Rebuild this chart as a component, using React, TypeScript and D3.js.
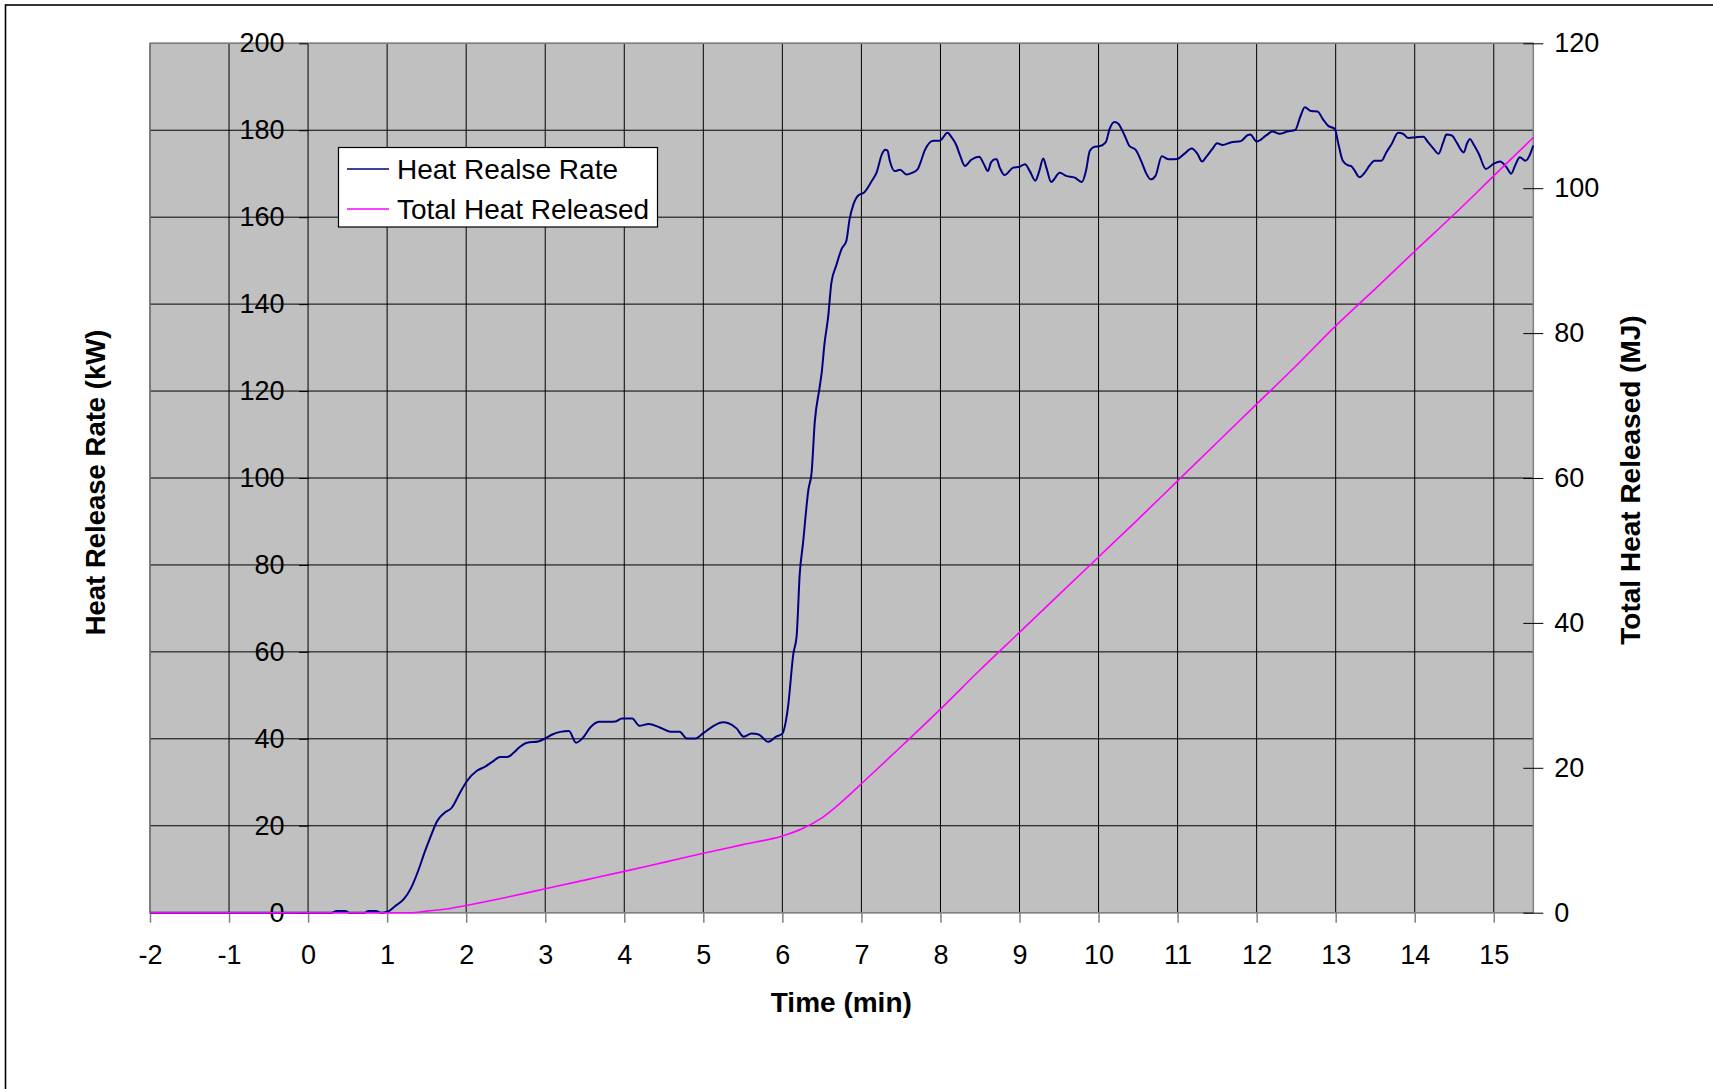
import * as d3 from 'd3';
import { useEffect, useRef } from 'react';

// Heat release rate (kW) vs time (min)
const hrrTime = [
    -2, 0.3, 0.36, 0.47, 0.52, 0.72, 0.76, 0.86, 0.92, 1.0, 1.1, 1.21, 1.3, 1.4, 1.47, 1.55, 1.63, 1.72, 1.82, 1.91,
    2.01, 2.14, 2.24, 2.33, 2.43, 2.52, 2.6, 2.67, 2.77, 2.91, 3.0, 3.09, 3.19, 3.3, 3.39, 3.48, 3.57, 3.68, 3.89, 3.97,
    4.1, 4.19, 4.31, 4.45, 4.6, 4.7, 4.79, 4.9, 5.0, 5.13, 5.25, 5.32, 5.42, 5.51, 5.61, 5.7, 5.82, 5.92, 6.0, 6.07,
    6.14, 6.18, 6.22, 6.26, 6.33, 6.37, 6.41, 6.47, 6.5, 6.53, 6.58, 6.62, 6.68, 6.75, 6.81, 6.85, 6.9, 6.96, 7.03, 7.13,
    7.19, 7.26, 7.3, 7.33, 7.36, 7.42, 7.49, 7.57, 7.64, 7.71, 7.74, 7.8, 7.91, 7.99, 8.09, 8.14, 8.2, 8.25, 8.31, 8.39,
    8.49, 8.55, 8.6, 8.64, 8.69, 8.71, 8.75, 8.81, 8.92, 9.0, 9.07, 9.13, 9.2, 9.25, 9.3, 9.34, 9.4, 9.51, 9.59, 9.7,
    9.79, 9.84, 9.89, 9.95, 10.01, 10.09, 10.14, 10.2, 10.25, 10.33, 10.39, 10.47, 10.54, 10.6, 10.66, 10.72, 10.8, 10.89, 11.0, 11.08,
    11.18, 11.25, 11.31, 11.36, 11.44, 11.5, 11.57, 11.67, 11.8, 11.89, 11.92, 12.0, 12.12, 12.2, 12.29, 12.39, 12.49, 12.55, 12.61, 12.69,
    12.77, 12.84, 12.9, 12.99, 13.03, 13.09, 13.16, 13.2, 13.24, 13.3, 13.37, 13.43, 13.49, 13.58, 13.64, 13.71, 13.79, 13.85, 13.92, 14.02,
    14.11, 14.17, 14.24, 14.3, 14.36, 14.4, 14.47, 14.53, 14.62, 14.66, 14.7, 14.74, 14.81, 14.9, 15.0, 15.08, 15.16, 15.22, 15.27, 15.33,
    15.4, 15.5,
];
const hrrValues = [
    0, 0, 0.4, 0.4, 0, 0, 0.4, 0.4, 0, 0.2, 1.5, 3.1, 5.6, 10, 13.7, 17.5, 21, 22.9, 24.2, 27.2,
    30.3, 32.7, 33.6, 34.7, 35.8, 35.8, 36.8, 38, 39.1, 39.4, 40.1, 41, 41.6, 41.8, 39.1, 40.3, 42.6, 43.9, 44, 44.7,
    44.7, 43, 43.4, 42.6, 41.6, 41.6, 40.1, 40.1, 41.3, 43, 43.8, 43.6, 42.4, 40.5, 41.2, 41, 39.3, 40.5, 41.2, 47.1,
    59.7, 63.5, 78, 84.8, 97.4, 101.3, 112.9, 120.7, 124.6, 130.4, 137.2, 144.9, 148.8, 152.7, 154.6, 159.5, 163, 165, 165.6, 168.3,
    170.2, 174.5, 175.5, 175.3, 172.9, 170.6, 170.9, 169.8, 170.2, 171, 172.2, 175.3, 177.6, 177.6, 179.4, 178.4, 176.6, 174.1, 171.8, 173.2,
    173.9, 172.2, 170.6, 172.6, 173.3, 173.3, 171.4, 169.7, 171.4, 171.6, 172.2, 170.6, 168.4, 170.6, 173.5, 171.4, 168.1, 170.2, 169.5, 169.1,
    168.1, 170.6, 175.3, 176.2, 176.3, 177.2, 180.3, 181.9, 181.5, 178.8, 176.4, 175.5, 172.9, 170.2, 168.7, 169.5, 174, 173.3, 173.4, 174.5,
    175.8, 174.6, 172.8, 173.8, 175.7, 177, 176.6, 177.2, 177.5, 178.9, 179, 177.4, 178.8, 179.7, 179.2, 179.7, 180.1, 183, 185.3, 184.4,
    184.3, 182.5, 181.1, 180.3, 177.2, 173, 171.9, 171.7, 170.7, 169.2, 170.3, 171.9, 173, 173, 174.9, 176.9, 179.4, 179.2, 178.2, 178.4,
    178.5, 177.2, 175.7, 174.6, 177.2, 179, 178.8, 177.2, 174.9, 176.9, 178, 176.9, 174.6, 171.1, 172.3, 172.8, 171.5, 170, 171.9, 173.8,
    173, 176.5,
];

// Total heat released (MJ) vs time (min)
const thrTime = [
    -2, 1.3, 1.5, 1.75, 2.0, 2.5, 3.0, 3.5, 4.0, 4.5, 5.0, 5.5, 6.0, 6.25, 6.5, 6.75, 7.0, 7.5, 8.0, 8.5,
    9.0, 9.5, 10.0, 10.5, 11.0, 11.5, 12.0, 12.5, 13.0, 13.5, 14.0, 14.5, 15.0, 15.5,
];
const thrValues = [
    0, 0, 0.22, 0.5, 1.0, 2.1, 3.3, 4.5, 5.7, 6.95, 8.2, 9.4, 10.6, 11.6, 13.1, 15.3, 17.8, 22.9, 28.1, 33.5,
    38.7, 43.9, 49.1, 54.3, 59.6, 64.9, 70.2, 75.5, 81.0, 86.1, 91.3, 96.4, 101.7, 107.0,
];

const xTicks = [-2, -1, 0, 1, 2, 3, 4, 5, 6, 7, 8, 9, 10, 11, 12, 13, 14, 15];
const leftTicks = [0, 20, 40, 60, 80, 100, 120, 140, 160, 180, 200];
const rightTicks = [0, 20, 40, 60, 80, 100, 120];
const seriesNames = ['Heat Realse Rate', 'Total Heat Released'];
const seriesColors = ['#000080', '#FF00FF'];

const FONT = "'Liberation Sans', Arial, sans-serif";

export default function App() {
    const svgRef = useRef<SVGSVGElement | null>(null);

    useEffect(() => {
        if (!svgRef.current) return;

        const width = 1713;
        const height = 1089;
        const plot = { left: 150, right: 1533.3, top: 43.3, bottom: 912.7 };

        const svg = d3.select(svgRef.current)
            .attr('width', width)
            .attr('height', height);
        svg.selectAll('*').remove();

        // chart area frame (only top and left edges visible)
        svg.append('rect')
            .attr('x', 5.5).attr('y', 5).attr('width', 1900).attr('height', 1200)
            .attr('fill', 'white').attr('stroke', '#000').attr('stroke-width', 1.6);

        // Escalas
        const x = d3.scaleLinear().domain([-2, 15.5]).range([plot.left, plot.right]);
        const yLeft = d3.scaleLinear().domain([0, 200]).range([plot.bottom, plot.top]);
        const yRight = d3.scaleLinear().domain([0, 120]).range([plot.bottom, plot.top]);

        // plot area
        svg.append('rect')
            .attr('x', plot.left).attr('y', plot.top)
            .attr('width', plot.right - plot.left).attr('height', plot.bottom - plot.top)
            .attr('fill', '#C0C0C0');

        // Gridlines
        const grid = svg.append('g').attr('stroke', '#000').attr('stroke-width', 1);
        grid.selectAll('line.v')
            .data(xTicks)
            .join('line')
            .attr('class', 'v')
            .attr('x1', d => x(d)).attr('x2', d => x(d))
            .attr('y1', plot.top).attr('y2', plot.bottom);
        grid.selectAll('line.h')
            .data(leftTicks)
            .join('line')
            .attr('class', 'h')
            .attr('x1', plot.left).attr('x2', plot.right)
            .attr('y1', d => yLeft(d)).attr('y2', d => yLeft(d));

        svg.append('rect')
            .attr('x', plot.left).attr('y', plot.top)
            .attr('width', plot.right - plot.left).attr('height', plot.bottom - plot.top)
            .attr('fill', 'none').attr('stroke', '#808080').attr('stroke-width', 1.5);

        // Ejes
        const xAxis = svg.append('g')
            .attr('transform', `translate(0,${plot.bottom})`)
            .call(d3.axisBottom(x).tickValues(xTicks).tickSize(10).tickPadding(22).tickFormat(d => String(d)));
        xAxis.select('.domain').remove();
        xAxis.selectAll('line').attr('stroke', '#808080').attr('stroke-width', 1.5);

        const leftAxis = svg.append('g')
            .attr('transform', `translate(${x(0)},0)`)
            .call(d3.axisLeft(yLeft).tickValues(leftTicks).tickSize(9).tickPadding(14.5).tickFormat(d => String(d)));
        leftAxis.select('.domain').remove();
        leftAxis.selectAll('line').attr('stroke', '#000');

        const rightAxis = svg.append('g')
            .attr('transform', `translate(${plot.right},0)`)
            .call(d3.axisRight(yRight).tickValues(rightTicks).tickSize(10).tickPadding(11).tickFormat(d => String(d)));
        rightAxis.select('.domain').remove();
        rightAxis.selectAll('line').attr('x1', -10).attr('stroke', '#000');

        svg.selectAll('.tick text')
            .attr('font-family', FONT)
            .attr('font-size', 27)
            .attr('fill', '#000');

        // Lines
        const hrrData = hrrTime.map((t, i) => ({ t, v: hrrValues[i] }));
        const thrData = thrTime.map((t, i) => ({ t, v: thrValues[i] }));

        const hrrLine = d3.line<{ t: number; v: number }>()
            .x(d => x(d.t))
            .y(d => yLeft(d.v))
            .curve(d3.curveMonotoneX);
        const thrLine = d3.line<{ t: number; v: number }>()
            .x(d => x(d.t))
            .y(d => yRight(d.v))
            .curve(d3.curveMonotoneX);

        svg.append('path')
            .datum(hrrData)
            .attr('fill', 'none')
            .attr('stroke', seriesColors[0])
            .attr('stroke-width', 2)
            .attr('stroke-linejoin', 'round')
            .attr('d', hrrLine);

        svg.append('path')
            .datum(thrData)
            .attr('fill', 'none')
            .attr('stroke', seriesColors[1])
            .attr('stroke-width', 1.6)
            .attr('d', thrLine);

        // Axis titles
        svg.append('text')
            .attr('transform', `translate(105,482.5) rotate(-90)`)
            .attr('text-anchor', 'middle')
            .attr('font-family', FONT).attr('font-size', 27.5).attr('font-weight', 'bold')
            .text('Heat Release Rate (kW)');
        svg.append('text')
            .attr('transform', `translate(1640,480) rotate(-90)`)
            .attr('text-anchor', 'middle')
            .attr('font-family', FONT).attr('font-size', 28).attr('font-weight', 'bold')
            .text('Total Heat Released (MJ)');
        svg.append('text')
            .attr('x', 841.3).attr('y', 1011.7)
            .attr('text-anchor', 'middle')
            .attr('font-family', FONT).attr('font-size', 28).attr('font-weight', 'bold')
            .text('Time (min)');

        // Legend
        const legend = svg.append('g');
        legend.append('rect')
            .attr('x', 338.5).attr('y', 147.5).attr('width', 319).attr('height', 79.5)
            .attr('fill', 'white').attr('stroke', '#000').attr('stroke-width', 1.2);
        seriesNames.forEach((name, i) => {
            const cy = 169 + i * 40;
            legend.append('line')
                .attr('x1', 347).attr('x2', 389)
                .attr('y1', cy).attr('y2', cy)
                .attr('stroke', seriesColors[i]).attr('stroke-width', 1.6);
            legend.append('text')
                .attr('x', 397).attr('y', cy + 9.8)
                .attr('font-family', FONT).attr('font-size', 28)
                .text(name);
        });
    }, []);

    return (
        <div style={{ position: 'absolute', left: 0, top: 0 }}>
            <svg ref={svgRef} style={{ display: 'block' }} />
        </div>
    );
}
